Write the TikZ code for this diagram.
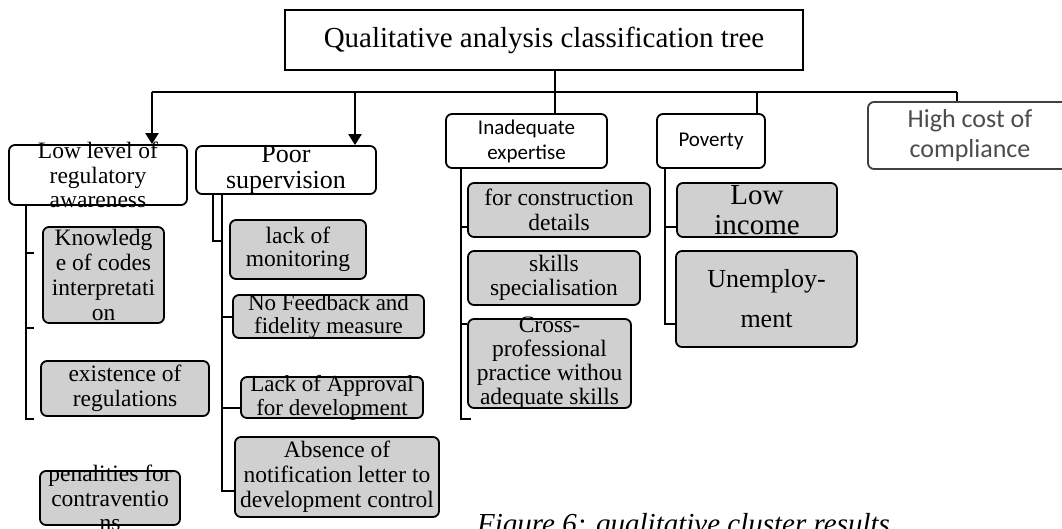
\documentclass[tikz,border=0pt]{standalone}
\usepackage{fontspec}
\setmainfont{Liberation Serif}
\newfontfamily\calibri{Carlito}
\usetikzlibrary{arrows.meta}
\definecolor{boxgray}{RGB}{208,208,208}
\tikzset{
	rootbox/.style={draw, line width=1.8pt, inner sep=0pt},
	cause/.style={draw, rounded corners=6pt, line width=1.8pt, fill=white, inner sep=0pt},
	factor/.style={draw, rounded corners=6pt, line width=1.8pt, fill=boxgray, inner sep=0pt},
	txt/.style={align=center, inner sep=0pt, font=\fontsize{23.5}{24.5}\selectfont},
	sanstxt/.style={align=center, inner sep=0pt, font=\calibri\fontsize{21}{25}\selectfont},
	bus/.style={line width=1.3pt},
	spine/.style={line width=2.4pt},
	branch/.style={line width=2.2pt, -{Triangle[width=13pt, length=11pt]}}
}

\begin{document}
\begin{tikzpicture}[x=1pt, y=-1pt]
	\useasboundingbox (0,0) rectangle (1062,529);
	\clip (0,0) rectangle (1062,529);
	
	% === NODES ===
	% Root of the tree.
	\node[rootbox, minimum width=518pt, minimum height=60pt, font=\fontsize{29}{30}\selectfont] (root) at (544,40) {Qualitative analysis classification tree};
	
	% Main causes.
	\node[cause, minimum width=178pt, minimum height=60pt, label={[txt]center:Low level of\\regulatory\\awareness}] (aware) at (98,175) {};
	\node[cause, minimum width=180pt, minimum height=48pt, label={[txt, font=\fontsize{26}{26}\selectfont]center:Poor\\supervision}] (poor) at (286,170) {};
	\node[cause, minimum width=161pt, minimum height=54pt, label={[sanstxt]center:Inadequate\\expertise}] (inad) at (526.5,141) {};
	\node[cause, minimum width=108pt, minimum height=54pt, label={[sanstxt]center:Poverty}] (pov) at (711,141) {};
	\node[cause, draw=black!75, minimum width=204pt, minimum height=67pt, label={[sanstxt, font=\calibri\fontsize{26}{30}\selectfont, text=black!70]center:High cost of\\compliance}] (cost) at (970,135.5) {};
	
	% Factors under each cause.
	\node[factor, minimum width=121pt, minimum height=96pt, label={[txt, font=\fontsize{23.5}{24.7}\selectfont]center:Knowledg\\e of codes\\interpretati\\on}] (know) at (103.5,275) {};
	\node[factor, minimum width=168pt, minimum height=55pt, label={[txt]center:existence of\\regulations}] (exist) at (125,388.5) {};
	\node[factor, minimum width=140pt, minimum height=54pt, label={[txt]center:penalities for\\contraventio\\ns}] (penal) at (110,498) {};
	
	\node[factor, minimum width=136pt, minimum height=59pt, label={[txt, font=\fontsize{23.5}{23}\selectfont]center:lack of\\monitoring}] (monit) at (298,249.5) {};
	\node[factor, minimum width=191pt, minimum height=43pt, label={[txt, font=\fontsize{23}{23}\selectfont]center:No Feedback and\\fidelity measure}] (feedb) at (328.5,316.5) {};
	\node[factor, minimum width=182pt, minimum height=41pt, label={[txt, font=\fontsize{23}{24}\selectfont]center:Lack of Approval\\for development}] (appro) at (332,397.5) {};
	\node[factor, minimum width=204pt, minimum height=80pt, label={[txt, font=\fontsize{23.5}{25}\selectfont]center:Absence of\\notification letter to\\development control}] (notif) at (337,477) {};
	
	\node[factor, minimum width=182pt, minimum height=54pt, label={[txt]center:for construction\\details}] (detail) at (559,210) {};
	\node[factor, minimum width=172pt, minimum height=54pt, label={[txt]center:skills\\specialisation}] (skill) at (554,278) {};
	\node[factor, minimum width=163pt, minimum height=89pt, label={[txt, font=\fontsize{23.5}{24}\selectfont]center:Cross-\\professional\\practice withou\\adequate skills}] (cross) at (549.5,363.5) {};
	
	\node[factor, minimum width=160pt, minimum height=54pt, label={[txt, font=\fontsize{29}{30}\selectfont]center:Low\\income}] (income) at (757,210) {};
	\node[factor, minimum width=181pt, minimum height=96pt, label={[txt, font=\fontsize{26}{40}\selectfont]center:Unemploy-\\ment}] (unemp) at (766.5,299) {};
	
	% Caption, cut by the lower edge.
	\node[anchor=base west, inner sep=0pt, font=\itshape\fontsize{29}{30}\selectfont] (caption) at (477,533) {Figure 6: qualitative cluster results};
	
	% === CONNECTIONS ===
	\coordinate (busL) at (152,92);
	\coordinate (busP) at (355,92);
	\coordinate (busI) at (555,92);
	\coordinate (busV) at (757,92);
	\coordinate (busR) at (957,92);
	
	\draw[bus] (busL) -- (busR);
	\draw[bus] (root.south -| busI) -- (busI |- inad.north);
	\draw[bus] (busV) -- (busV |- pov.north);
	\draw[bus] (busR) -- (busR |- cost.north);
	\draw[branch] (busL) -- (busL |- aware.north);
	\draw[branch] (busP) -- (busP |- poor.north);
	
	% Spines under the causes.
	\coordinate (spA) at ([xshift=18pt]aware.south west);
	\coordinate (spB) at ([xshift=27pt]poor.south west);
	\coordinate (spB2) at ([xshift=18pt]poor.south west);
	\coordinate (spC) at ([xshift=16pt]inad.south west);
	\coordinate (spD) at ([xshift=9pt]pov.south west);
	
	\draw[spine] (spA) |- ++(8,213);
	\draw[spine] (spA) ++(0,47) -- ++(8,0);
	\draw[spine] (spA) ++(0,122) -- ++(8,0);
	
	\draw[bus] (spB2) |- ++(9,46);
	\draw[spine] (spB) |- ++(12,296);
	\draw[spine] (spB) ++(0,122) -- ++(10,0);
	\draw[spine] (spB) ++(0,213) -- ++(18,0);
	
	\draw[spine] (spC) |- ++(10,250);
	\draw[spine] (spC) ++(0,58) -- ++(6,0);
	\draw[spine] (spC) ++(0,155) -- ++(6,0);
	
	\draw[spine] (spD) |- ++(12,155);
	\draw[spine] (spD) ++(0,58) -- ++(11,0);
\end{tikzpicture}
\end{document}
